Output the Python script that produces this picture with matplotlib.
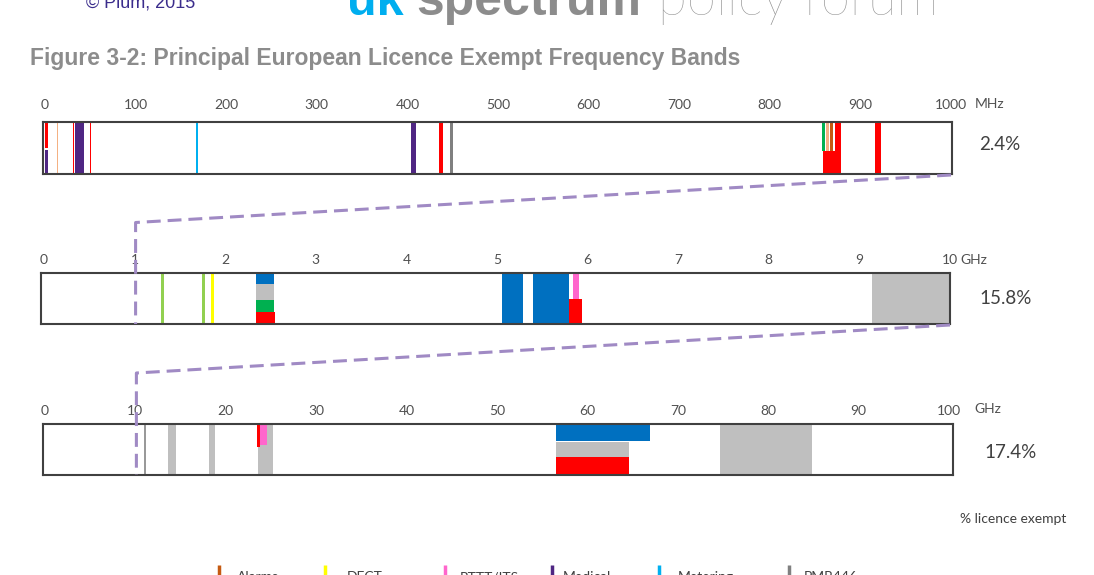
import matplotlib
matplotlib.use("Agg")
import matplotlib.pyplot as plt

W, H = 1094, 575
plt.rcParams['font.family'] = ['Lato', 'DejaVu Sans']
plt.rcParams['lines.scale_dashes'] = False

# colours per band type
colors = {
    'srd': '#FF0000',
    'medical': '#4F2683',
    'inductive': '#F4B183',
    'alarms': '#C55A11',
    'metering': '#00B0F0',
    'pmr446': '#808080',
    'rfid': '#00B050',
    'other': '#92D050',
    'dect': '#FFFF00',
    'rlan': '#0070C0',
    'uwb': '#BFBFBF',
    'radar': '#999999',
    'rttt': '#FF66CC',
}

# ---- strip 1: 0-1000 MHz ----
mhz_start = [0.5, 0.5, 13.3, 30.8, 33.1, 49.8, 166.3, 404.0, 435.2, 447.0,
             857.3, 861.7, 866.4, 859.0, 871.9, 916.1]
mhz_end = [3.0, 2.8, 14.8, 31.8, 43.0, 51.2, 169.2, 409.5, 439.0, 450.0,
           860.6, 865.3, 870.1, 872.0, 878.2, 922.7]
mhz_low = [0.5, 0.0, 0, 0, 0, 0, 0, 0, 0, 0, 0.44, 0.44, 0.44, 0, 0, 0]
mhz_high = [1, 0.46, 1, 1, 1, 1, 1, 1, 1, 1, 1, 1, 1, 0.44, 1, 1]
mhz_kind = ['srd', 'medical', 'inductive', 'srd', 'medical', 'srd', 'metering',
            'medical', 'srd', 'pmr446', 'rfid', 'inductive', 'alarms', 'srd',
            'srd', 'srd']
mhz_ticks = [0, 100, 200, 300, 400, 500, 600, 700, 800, 900, 1000]

# ---- strip 2: 0-10 GHz ----
ghz10_start = [1.29, 1.74, 1.845, 2.337, 2.337, 2.337, 2.337, 5.055, 5.40, 5.835, 5.80, 9.14]
ghz10_end = [1.32, 1.775, 1.88, 2.542, 2.542, 2.542, 2.553, 5.29, 5.80, 5.905, 5.935, 10.0]
ghz10_low = [0, 0, 0, 0.78, 0.47, 0.20, 0, 0, 0, 0.49, 0, 0]
ghz10_high = [1, 1, 1, 1, 0.78, 0.47, 0.24, 1, 1, 1, 0.49, 1]
ghz10_kind = ['other', 'other', 'dect', 'rlan', 'uwb', 'rfid', 'srd', 'rlan',
              'rlan', 'rttt', 'srd', 'uwb']
ghz10_ticks = [0, 1, 2, 3, 4, 5, 6, 7, 8, 9, 10]

# ---- strip 3: 0-100 GHz ----
ghz100_start = [10.9, 13.64, 18.14, 23.56, 23.53, 23.5, 56.5, 56.5, 56.5, 74.7]
ghz100_end = [11.15, 14.46, 18.8, 25.19, 24.59, 23.75, 66.9, 64.6, 64.6, 84.8]
ghz100_low = [0, 0, 0, 0, 0.59, 0.55, 0.67, 0.36, 0, 0]
ghz100_high = [1, 1, 1, 1, 1, 1, 1, 0.65, 0.36, 1]
ghz100_kind = ['radar', 'uwb', 'uwb', 'uwb', 'rttt', 'srd', 'rlan', 'uwb', 'srd', 'uwb']
ghz100_ticks = [0, 10, 20, 30, 40, 50, 60, 70, 80, 90, 100]

percent_labels = ['2.4%', '15.8%', '17.4%']
legend_labels = ['Alarms', 'DECT', 'RTTT/ITS', 'Medical', 'Metering', 'PMR446']
legend_kinds = ['alarms', 'dect', 'rttt', 'medical', 'metering', 'pmr446']


def px_axes(left, top, right, bottom):
    return fig.add_axes([left / W, 1 - bottom / H, (right - left) / W, (bottom - top) / H])


def draw_strip(ax, starts, ends, lows, highs, kinds, xlim, ticks, pad):
    for s, e, lo, hi, k in zip(starts, ends, lows, highs, kinds):
        ax.bar(s, hi - lo, width=e - s, bottom=lo, align='edge',
               color=colors[k], linewidth=0)
    ax.set_xlim(*xlim)
    ax.set_ylim(0, 1)
    ax.xaxis.tick_top()
    ax.set_xticks(ticks)
    ax.set_xticklabels([str(t) for t in ticks])
    ax.set_yticks([])
    ax.tick_params(axis='x', length=0, pad=pad, labelsize=10, labelcolor='#505050')
    for sp in ax.spines.values():
        sp.set_color('#404040')
        sp.set_linewidth(1.5)


fig = plt.figure(figsize=(W / 100, H / 100), dpi=100)

ax1 = px_axes(43, 122, 952, 174)
draw_strip(ax1, mhz_start, mhz_end, mhz_low, mhz_high, mhz_kind, (-2.2, 1001.1), mhz_ticks, 8)
ax2 = px_axes(41, 273, 950, 324)
draw_strip(ax2, ghz10_start, ghz10_end, ghz10_low, ghz10_high, ghz10_kind, (-0.033, 10.0), ghz10_ticks, 5)
ax3 = px_axes(43, 424, 953, 475)
draw_strip(ax3, ghz100_start, ghz100_end, ghz100_low, ghz100_high, ghz100_kind, (-0.22, 100.44), ghz100_ticks, 5)

# overlay in pixel coordinates (y down)
ov = fig.add_axes([0, 0, 1, 1], zorder=5)
ov.set_xlim(0, W)
ov.set_ylim(H, 0)
ov.axis('off')


def to_px(ax, x, y):
    dx, dy = ax.transData.transform((x, y))
    return dx, H - dy


# zoom connector lines
for a_from, x_from, a_to, x_to in [(ax1, 1000, ax2, 1), (ax2, 10, ax3, 10)]:
    x0, y0 = to_px(a_from, x_from, 0)
    xc, yb = to_px(a_to, x_to, 0)
    _, yt = to_px(a_to, x_to, 1)
    yc = (y0 + yt) / 2 - 1
    ov.plot([x0, xc + 1, xc + 1], [y0 + 1, yc, yb], color='#A08AC4', lw=2.2,
            dashes=(10, 5), solid_capstyle='butt', dash_capstyle='butt')

# unit labels
ov.text(975, 104, 'MHz', fontsize=10, color='#505050', va='center')
ov.text(960, 260, 'GHz', fontsize=10, color='#505050', va='center')
ov.text(974, 409, 'GHz', fontsize=10, color='#505050', va='center')

# percentages
for txt, x, y in zip(percent_labels, [979, 979, 984], [145, 299, 452]):
    ov.text(x, y, txt, fontsize=13.5, color='#404040', va='center')
ov.text(960, 519, '% licence exempt', fontsize=10, color='#404040', va='center')

# header
ov.text(86, 7, '\u00a9 Plum, 2015', fontsize=13, color='#3B2D8C',
        family='Liberation Sans', va='baseline')
ov.text(347, 15, 'uk', fontsize=35, color='#00AEEF', family='Liberation Sans',
        fontweight='bold', va='baseline')
ov.text(416, 15, 'spectrum', fontsize=36, color='#8C8C8C', family='Liberation Sans',
        fontweight='bold', va='baseline')
ov.text(658, 15, 'policy forum', fontsize=38, color='#8C8C8C', family='Lato',
        fontweight='light', va='baseline')
ov.text(30, 58, 'Figure 3-2: Principal European Licence Exempt Frequency Bands',
        fontsize=16.5, color='#8C8C8C', family='Liberation Sans', fontweight='bold',
        va='center')

# legend (cut off at the bottom edge)
for lab, k, xb, xt in zip(legend_labels, legend_kinds,
                          [219, 325, 445, 552, 659, 789],
                          [237, 347, 460, 563, 678, 804]):
    ov.plot([xb, xb], [565, 580], color=colors[k], lw=2.5, solid_capstyle='butt')
    ov.text(xt, 571, lab, fontsize=10, color='#404040', va='top')

fig.savefig('out.png', dpi=100)
